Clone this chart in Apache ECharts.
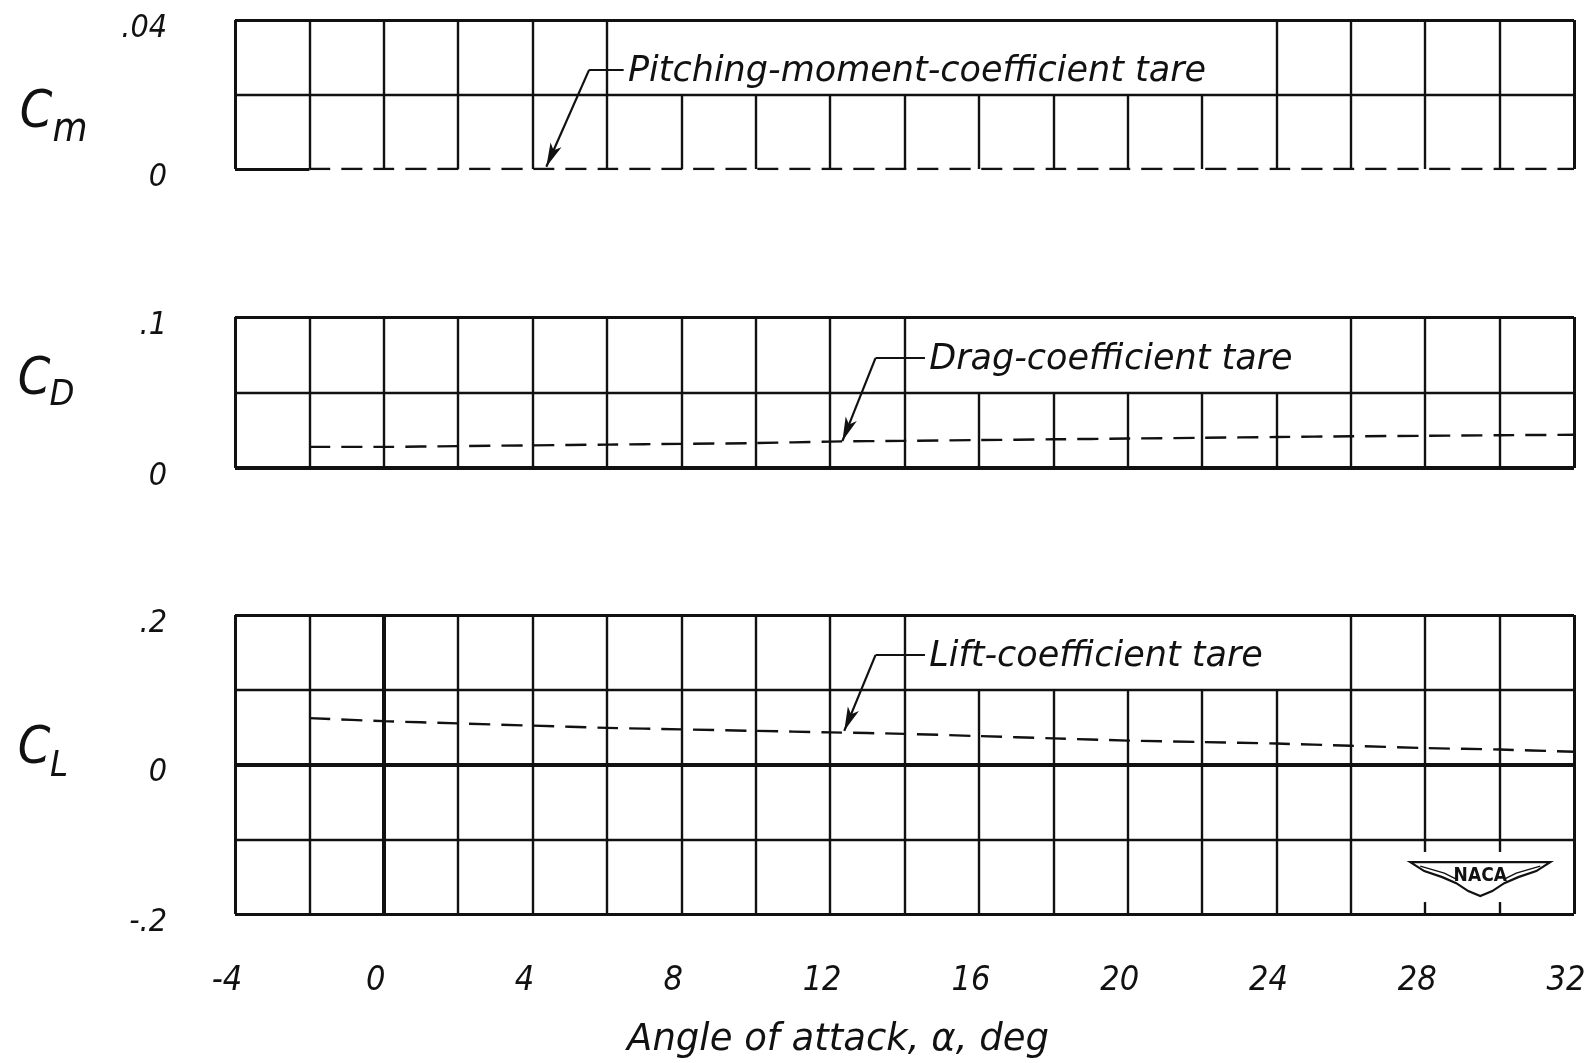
<!DOCTYPE html>
<html><head><meta charset="utf-8">
<script src="https://cdn.jsdelivr.net/npm/echarts@6/dist/echarts.min.js"></script>
<style>html,body{margin:0;padding:0;background:#fff}#c{width:1588px;height:1063px}</style>
</head><body><div id="c"></div>
<script>
// ---- data ----
const angles = [-2, 0, 2, 4, 6, 8, 10, 12, 14, 16, 18, 20, 22, 24, 26, 28, 30, 32];
const cmTare = [0, 0, 0, 0, 0, 0, 0, 0, 0, 0, 0, 0, 0, 0, 0, 0, 0, 0];
const cdTare = [0.014, 0.014, 0.0145, 0.015, 0.0155, 0.016, 0.0165, 0.0175, 0.018, 0.0185, 0.019, 0.0195, 0.020, 0.0205, 0.021, 0.0213, 0.0217, 0.022];
const clTare = [0.062, 0.058, 0.055, 0.052, 0.049, 0.047, 0.045, 0.043, 0.041, 0.038, 0.035, 0.032, 0.030, 0.028, 0.025, 0.022, 0.020, 0.017];
const xTicks = [-4, -2, 0, 2, 4, 6, 8, 10, 12, 14, 16, 18, 20, 22, 24, 26, 28, 30, 32];
const xTickLabels = ['-4', '', '0', '', '4', '', '8', '', '12', '', '16', '', '20', '', '24', '', '28', '', '32'];
const cmTicks = [0, 0.02, 0.04];
const cmTickLabels = ['0', '', '.04'];
const cdTicks = [0, 0.05, 0.1];
const cdTickLabels = ['0', '', '.1'];
const clTicks = [-0.2, -0.1, 0, 0.1, 0.2];
const clTickLabels = ['-.2', '', '0', '', '.2'];
const seriesNames = ['Pitching-moment-coefficient tare', 'Drag-coefficient tare', 'Lift-coefficient tare'];
const axisSymbols = [['C', 'm'], ['C', 'D'], ['C', 'L']];
const xTitle = 'Angle of attack, \u03b1, deg';

// ---- layout / style ----
const FONT_N = "'DejaVu Sans Condensed', 'DejaVu Sans', sans-serif";
const FONT_W = "'DejaVu Sans', sans-serif";
const INK = '#111';
const X0 = 235, W = 1339;
const panels = [
  { ticks: cmTicks, labels: cmTickLabels, data: cmTare, top: 20, height: 149,
    hw: { '0.04': 3, '0.02': 2.4, '0': 3 }, hClip: { '0': [-4, -2] },
    gaps: [{ xIn: [6, 24], y: [0.02, 0.04] }],
    vThick: {},
    note: { text: seriesNames[0], path: [[6.45, 0.0266], [5.52, 0.0266], [4.37, 0.0006]] } },
  { ticks: cdTicks, labels: cdTickLabels, data: cdTare, top: 317, height: 151,
    hw: { '0.1': 3, '0.05': 2.4, '0': 4 }, hClip: {},
    gaps: [{ xIn: [14, 26], y: [0.05, 0.1] }],
    vThick: {},
    note: { text: seriesNames[1], path: [[14.55, 0.0728], [13.22, 0.0728], [12.33, 0.0178]] } },
  { ticks: clTicks, labels: clTickLabels, data: clTare, top: 615, height: 299,
    hw: { '0.2': 3, '0.1': 2.4, '0': 4, '-0.1': 2.4, '-0.2': 3 }, hClip: {},
    gaps: [{ xIn: [14, 26], y: [0.1, 0.2] }, { xList: [28, 30], y: [-0.184, -0.117] }],
    vThick: { '0': 4 },
    note: { text: seriesNames[2], path: [[14.55, 0.1464], [13.22, 0.1464], [12.38, 0.045]] } }
];

function seg(a, b, w) {
  return [{ coord: a, symbol: 'none', lineStyle: { width: w, color: INK, type: 'solid' } }, { coord: b, symbol: 'none' }];
}

function gridLines(p) {
  const ymin = p.ticks[0], ymax = p.ticks[p.ticks.length - 1];
  const out = [];
  p.ticks.forEach(y => {
    const k = String(+y.toFixed(4));
    const clip = p.hClip[k] || [xTicks[0], xTicks[xTicks.length - 1]];
    out.push(seg([clip[0], y], [clip[1], y], p.hw[k] || 2.4));
  });
  xTicks.forEach((x, i) => {
    const edge = (i === 0 || i === xTicks.length - 1);
    const w = p.vThick[String(x)] || (edge ? 3 : 2.4);
    const cuts = p.gaps.filter(g => g.xIn ? (x > g.xIn[0] && x < g.xIn[1]) : g.xList.includes(x))
      .map(g => g.y).sort((a, b) => a[0] - b[0]);
    let start = ymin;
    cuts.forEach(c => { if (c[0] > start) out.push(seg([x, start], [x, c[0]], w)); start = c[1]; });
    if (start < ymax) out.push(seg([x, start], [x, ymax], w));
  });
  return out;
}

const chart = echarts.init(document.getElementById('c'), null, { renderer: 'canvas' });

const grids = [], xAxes = [], yAxes = [], series = [];
panels.forEach((p, i) => {
  grids.push({ left: X0, top: p.top, width: W, height: p.height, containLabel: false, outerBoundsMode: 'none' });
  xAxes.push({
    type: 'value', gridIndex: i, min: xTicks[0], max: xTicks[xTicks.length - 1], interval: 2,
    axisLine: { show: false }, axisTick: { show: false }, splitLine: { show: false },
    axisLabel: {
      show: i === 2, margin: 50, color: INK, fontFamily: FONT_N, fontStyle: 'italic', fontSize: 34,
      padding: [0, 16, 0, 0], hideOverlap: false,
      formatter: v => { const j = xTicks.indexOf(Math.round(v)); return j >= 0 ? xTickLabels[j] : ''; }
    }
  });
  const step = p.ticks[1] - p.ticks[0];
  yAxes.push({
    type: 'value', gridIndex: i, min: p.ticks[0], max: p.ticks[p.ticks.length - 1], interval: step,
    axisLine: { show: false }, axisTick: { show: false }, splitLine: { show: false },
    axisLabel: {
      margin: 68, color: INK, hideOverlap: false,
      formatter: v => { const j = p.ticks.findIndex(t => Math.abs(t - v) < 1e-9); return (j >= 0 && p.labels[j]) ? '{t|' + p.labels[j] + '}' : ''; },
      rich: { t: { fontFamily: FONT_N, fontStyle: 'italic', fontSize: 32, color: INK, padding: [17, 0, 0, 0] } }
    }
  });
  // grid frame & lines
  series.push({
    type: 'line', xAxisIndex: i, yAxisIndex: i, data: [], silent: true, animation: false, z: 1,
    markLine: { silent: true, animation: false, symbol: 'none', label: { show: false },
      emphasis: { disabled: true }, data: gridLines(p) }
  });
  // tare curve
  series.push({
    name: p.note.text, type: 'line', xAxisIndex: i, yAxisIndex: i, z: 3,
    data: angles.map((a, k) => [a, p.data[k]]),
    showSymbol: false, symbol: 'none', smooth: 0.3, animation: false, silent: true,
    lineStyle: { color: INK, width: 2.4, type: [21, 11] },
    markLine: {
      silent: true, animation: false, label: { show: false }, emphasis: { disabled: true },
      data: [
        [{ coord: p.note.path[0], symbol: 'none', lineStyle: { color: INK, width: 2.2, type: 'solid' } }, { coord: p.note.path[1], symbol: 'none' }],
        [{ coord: p.note.path[1], symbol: 'none', lineStyle: { color: INK, width: 2.2, type: 'solid' } }, { coord: p.note.path[2], symbol: 'arrow', symbolSize: [9, 24] }]
      ]
    },
    markPoint: {
      silent: true, animation: false,
      data: [{ coord: [p.note.path[0][0] + 0.1, p.note.path[0][1]], symbol: 'circle', symbolSize: 1,
        itemStyle: { color: 'rgba(0,0,0,0)' },
        label: { show: true, position: 'right', distance: 0, formatter: p.note.text, color: INK,
          fontFamily: FONT_W, fontStyle: 'italic', fontSize: 35, offset: [0, 2] } }]
    }
  });
});

chart.setOption({
  backgroundColor: '#fff',
  animation: false,
  grid: grids, xAxis: xAxes, yAxis: yAxes, series: series
});

// axis symbols, x title and NACA emblem
const g = [];
const symPos = [[36, 113, 70, 131, 40], [34, 380, 62, 396, 36], [34, 749, 59, 767, 36]];
axisSymbols.forEach((s, i) => {
  const q = symPos[i];
  g.push({ type: 'text', x: q[0], y: q[1], style: { text: s[0], fill: INK, font: 'italic 52px ' + FONT_N, align: 'center', verticalAlign: 'middle' } });
  g.push({ type: 'text', x: q[2], y: q[3], style: { text: s[1], fill: INK, font: 'italic ' + q[4] + 'px ' + FONT_N, align: 'center', verticalAlign: 'middle' } });
});
g.push({ type: 'text', x: 838, y: 1040, style: { text: xTitle, fill: INK, font: 'italic 37px ' + FONT_W, align: 'center', verticalAlign: 'middle' } });
const logo = chart.convertToPixel({ gridIndex: 2 }, [29.48, -0.152]);
g.push({
  type: 'group', x: logo[0], y: logo[1], children: [
    { type: 'polygon', shape: { points: [[-70, -16], [70, -16], [56, -7], [38, -1], [24, 5], [12, 13], [0, 18], [-12, 13], [-24, 5], [-38, -1], [-56, -7]] },
      style: { fill: '#fff', stroke: INK, lineWidth: 2.2 } },
    { type: 'polyline', shape: { points: [[-60, -12], [-36, -5], [-24, 1]] }, style: { stroke: INK, lineWidth: 1.5, fill: null } },
    { type: 'polyline', shape: { points: [[60, -12], [36, -5], [24, 1]] }, style: { stroke: INK, lineWidth: 1.5, fill: null } },
    { type: 'text', x: 0, y: -2, style: { text: 'NACA', fill: INK, font: 'bold 19px ' + FONT_N, align: 'center', verticalAlign: 'middle' } }
  ]
});
chart.setOption({ graphic: g });
</script></body></html>
